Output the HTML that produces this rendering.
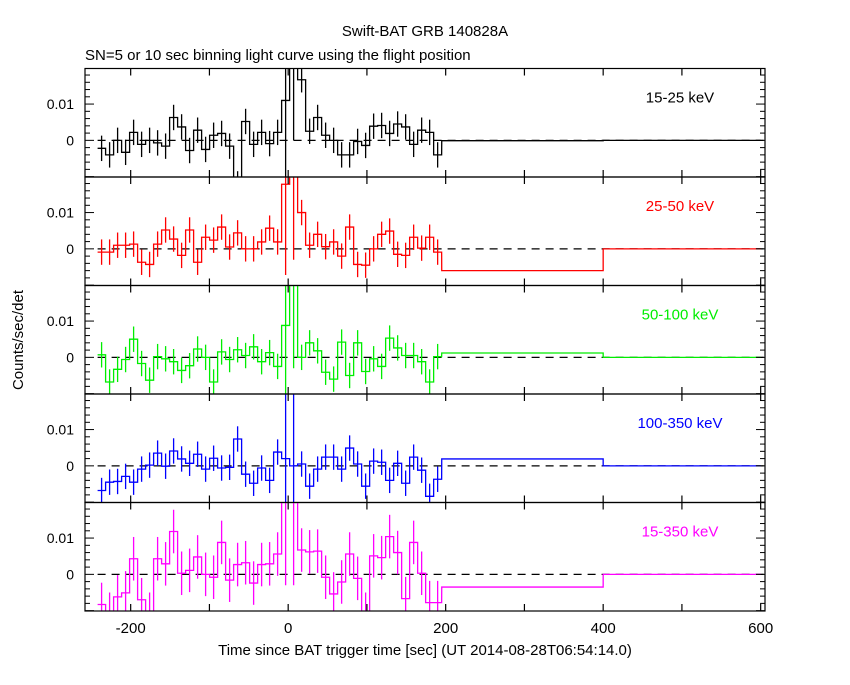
<!DOCTYPE html>
<html><head><meta charset="utf-8"><style>
body{margin:0;background:#fff;}
svg text{font-family:"Liberation Sans",sans-serif;}
</style></head><body>
<svg id="chart" width="850" height="680" xmlns="http://www.w3.org/2000/svg">
<rect width="850" height="680" fill="#fff"/>
<text x="425" y="36" font-size="15" text-anchor="middle">Swift-BAT GRB 140828A</text>
<text x="85" y="60" font-size="15">SN=5 or 10 sec binning light curve using the flight position</text>
<text x="0" y="0" font-size="15" text-anchor="middle" transform="translate(23,340) rotate(-90)">Counts/sec/det</text>
<text x="425" y="655" font-size="15" text-anchor="middle">Time since BAT trigger time [sec] (UT 2014-08-28T06:54:14.0)</text>
<g id="plots"></g>
</svg>
<script>
// bins: 10.16 s from -242 to ~195, then two long bins
const binStart = -242;
const binWidth = 10.16;
const longEdges = [195, 400, 600];
const panelLabels = ["15-25 keV", "25-50 keV", "50-100 keV", "100-350 keV", "15-350 keV"];
const panelColors = ["#000000", "#ff0000", "#00ee00", "#0000ff", "#ff00ff"];
// values in units of 0.001 counts/sec/det
const rate1525 = [-2.2,-4,0,-3.3,2.2,-1.1,0,-0.7,-1.6,6.3,3.7,-2.8,2.8,-2.5,1.4,1.9,-1.6,-12,5.2,-1.1,2.2,-0.9,2.2,11,25,16.7,2.5,6.3,1.4,0,-4,-4,-0.3,-1.4,3.9,4.1,1.9,4.5,3.7,-1.1,2.8,2.2,-4];
const rate2550 = [-0.9,-0.9,1,1,1.3,-3.7,-4.3,1.3,5.2,2.7,-1.8,5.2,-3.7,3.2,2.4,6,0.5,4.4,0,0,1.9,5.7,1.9,17.8,22,10,1,4,0.6,1.9,-2,6,-4.3,-4.5,0,4,4.9,-1.5,-1.8,3.2,0.2,3.2,-0.9];
const rate50100 = [0.7,-6.8,-3.3,-0.6,5,-1.7,-6.3,0.2,-0.4,-1.2,-3.6,-2.3,2.3,0,-6.8,1.5,-0.6,2.1,0.5,2.9,-1.2,1.3,-2.5,8.8,22,0,4,1.8,-4.1,-6,4.2,-5,4,-3.9,-0.4,-2.5,5.3,2.6,0.5,0.5,-1.2,-6.8,0.2];
const rate100350 = [-6.8,-4.5,-4.3,-2.9,-4.5,-0.9,0.2,3.5,-0.1,4.1,1.9,0.7,3.2,-0.9,2.1,-0.6,-0.4,7.4,-2.3,-4.8,-0.6,-4,3.8,2,0,0.5,-5.6,-0.9,2.4,2.4,-0.9,4.9,0.5,-5.6,1.3,1,-4,0.7,-4.8,2.4,-1.2,-8.4,-3.7];
const rate15350 = [-8.3,-11,-6.2,-5.1,4.3,-7,-11,4.3,2.9,11.8,0.3,1.1,4.8,0,-0.8,8.8,-1.6,2.7,3.2,-2.4,2.7,2.9,5.6,22,22,6.7,6.2,6.4,-0.8,-5.4,-2.1,5.6,-1.1,-11,5.1,4.6,10.4,6,-6.7,8.8,0.3,-7.8,-7.8];
const longRates = [[-0.1,0],[-6,0],[1.2,0],[1.9,0],[-3.5,0]];
const errSizes = [3.5, 3.5, 3.5, 3.5, 6];
const burstErrs = [[23,24],[23,24],[23,24],[23,24],[23,24]];
const xTicks = [-200, 0, 200, 400, 600];
const yTicks = [0, 0.01];
const yTickLabels = ["0", "0.01"];

const series = [rate1525, rate2550, rate50100, rate100350, rate15350];
const L = 85, R = 765, tMin = -258, tMax = 605.5;
const panelTops = [68.5, 177, 285.5, 394, 502.5];
const PH = 108.5;
const yMin = -0.0101, yMax = 0.0198;
const NS = "http://www.w3.org/2000/svg";
const plots = document.getElementById('plots');
function X(t){ return L + (t - tMin) / (tMax - tMin) * (R - L); }
function Yf(p){ const top = panelTops[p]; return v => top + (yMax - v) / (yMax - yMin) * PH; }
function mk(tag, attrs, parent){ const e = document.createElementNS(NS, tag); for (const k in attrs) e.setAttribute(k, attrs[k]); (parent || plots).appendChild(e); return e; }

for (let p = 0; p < 5; p++) {
  const Y = Yf(p), top = panelTops[p], bot = top + PH, col = panelColors[p];
  const g = mk('g', {});
  
  
  const clip = mk('clipPath', {id: 'c' + p}, g);
  mk('rect', {x: L, y: top, width: R - L, height: PH}, clip);
  const zl = mk('line', {x1: X(-242), x2: R, y1: Y(0), y2: Y(0), stroke: '#000', 'stroke-width': 1.3, 'stroke-dasharray': '8,6'}, g);
  
  
  const vals = series[p];
  let d = '';
  const dg = mk('g', {'clip-path': 'url(#c' + p + ')'}, g);
  
  
  for (let i = 0; i < vals.length; i++) {
    const t0 = binStart + i * binWidth, t1 = t0 + binWidth, v = vals[i] * 0.001;
    d += (i === 0 ? 'M' : 'L') + X(t0) + ',' + Y(v) + 'L' + X(t1) + ',' + Y(v);
    let e = errSizes[p];
    for (const b of burstErrs[p]) if (b === i) e = 25;
    const tc = (t0 + t1) / 2;
    const eb = mk('line', {x1: X(tc), x2: X(tc), y1: Y(v - e * 0.001), y2: Y(v + e * 0.001), stroke: col, 'stroke-width': 1.3}, dg);
    
    
  }
  for (let j = 0; j < 2; j++) {
    const v = longRates[p][j] * 0.001;
    d += 'L' + X(longEdges[j]) + ',' + Y(v) + 'L' + X(longEdges[j + 1]) + ',' + Y(v);
  }
  const path = mk('path', {d: d, fill: 'none', stroke: col, 'stroke-width': 1.3}, dg);
  
  
  const fr = mk('rect', {x: L, y: top, width: R - L, height: PH, fill: 'none', stroke: '#000', 'stroke-width': 1.2}, g);
  
  
  for (let t = -200; t <= 600; t += 100) {
    const len = 7;
    mk('line', {x1: X(t), x2: X(t), y1: top, y2: top + len, stroke: '#000', 'stroke-width': 1.2}, g);
    mk('line', {x1: X(t), x2: X(t), y1: bot, y2: bot - len, stroke: '#000', 'stroke-width': 1.2}, g);
  }
  for (let k = -5; k <= 9; k++) {
    const v = k * 0.002; if (v < yMin || v > yMax) continue;
    const len = (k % 5 === 0) ? 9 : 5;
    mk('line', {x1: L, x2: L + len, y1: Y(v), y2: Y(v), stroke: '#000', 'stroke-width': 1}, g);
    mk('line', {x1: R, x2: R - len, y1: Y(v), y2: Y(v), stroke: '#000', 'stroke-width': 1}, g);
  }
  for (let k = 0; k < yTicks.length; k++) {
    const tl = mk('text', {x: 74, y: Y(yTicks[k]) + 5, 'font-size': 14, 'text-anchor': 'end'}, g);
    tl.textContent = yTickLabels[k];
    
    
  }
  const lb = mk('text', {x: 680, y: top + 34, 'font-size': 15, 'text-anchor': 'middle', fill: col}, g);
  lb.textContent = panelLabels[p];
  
  
}
for (const t of xTicks) {
  const tl = mk('text', {x: X(t), y: 633, 'font-size': 15, 'text-anchor': 'middle'});
  tl.textContent = String(t);
  
  
}
</script>
</body></html>
